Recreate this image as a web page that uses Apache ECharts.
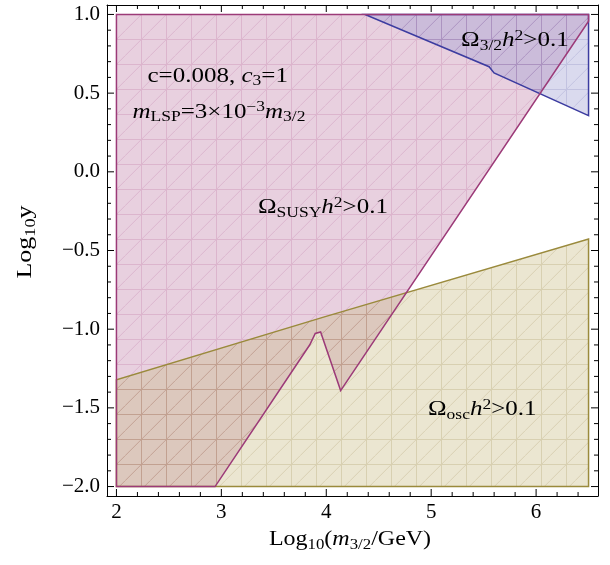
<!DOCTYPE html>
<html>
<head>
<meta charset="utf-8">
<script src="https://cdn.jsdelivr.net/npm/echarts@6/dist/echarts.min.js"></script>
<style>
  body { margin: 0; background: #fff; }
  #chart { width: 610px; height: 565px; }
</style>
</head>
<body>
<div id="chart"></div>
<script>
// region boundaries, [log10 m3/2, log10 y]
const susyRegion = [[2, 1], [6.5, 1], [6.5, 0.957], [4.137, -1.39], [3.946, -1.018], [3.895, -1.027],
  [3.843, -1.099], [2.94, -2], [2, -2]];
const oscRegion = [[2, -2], [6.5, -2], [6.5, -0.427], [3.99, -0.92], [2, -1.322]];
const gravitinoRegion = [[4.369, 1], [6.5, 1], [6.5, 0.357], [5.599, 0.628], [5.552, 0.668]];

const xRange = [1.91, 6.59];
const yRange = [-2.06, 1.06];
const xMajor = [2, 3, 4, 5, 6];
const xMinor = [2.2, 2.4, 2.6, 2.8, 3.2, 3.4, 3.6, 3.8, 4.2, 4.4, 4.6, 4.8, 5.2, 5.4, 5.6, 5.8, 6.2, 6.4];
const yMajor = [-2, -1.5, -1, -0.5, 0, 0.5, 1];
const yMinor = [-1.9, -1.8, -1.7, -1.6, -1.4, -1.3, -1.2, -1.1, -0.9, -0.8, -0.7, -0.6, -0.4, -0.3, -0.2, -0.1,
  0.1, 0.2, 0.3, 0.4, 0.6, 0.7, 0.8, 0.9];

const annotations = [
  { at: [2.296, 0.606], text: 'c=0.008, {i|c}{sub|3}=1' },
  { at: [2.153, 0.377], text: '{i|m}{sub|LSP}=3×10{sup|−3}{i|m}{sub|3/2}' },
  { at: [3.349, -0.23], text: 'Ω{sub|SUSY}{i|h}{sup|2}>0.1' },
  { at: [5.285, 0.831], text: 'Ω{sub|3/2}{i|h}{sup|2}>0.1' },
  { at: [4.97, -1.513], text: 'Ω{sub|osc}{i|h}{sup|2}>0.1' }
];

const serif = '"Liberation Serif", "Times New Roman", serif';

function meshTile(base, line) {
  const c = document.createElement('canvas');
  c.width = 25; c.height = 25;
  const ctx = c.getContext('2d');
  ctx.fillStyle = base;
  ctx.fillRect(0, 0, 25, 25);
  ctx.strokeStyle = line;
  ctx.lineWidth = 1;
  ctx.beginPath();
  ctx.moveTo(16.5, 0); ctx.lineTo(16.5, 25);
  ctx.moveTo(0, 14.5); ctx.lineTo(25, 14.5);
  ctx.moveTo(0, 5.8); ctx.lineTo(5.8, 0);
  ctx.moveTo(5.8, 25); ctx.lineTo(25, 5.8);
  ctx.stroke();
  return c;
}

function polySeries(pts, style, z) {
  return {
    type: 'custom',
    silent: true,
    z: z,
    encode: { x: 0, y: 1 },
    data: pts,
    renderItem: function (params, api) {
      if (params.dataIndex !== 0) return null;
      return {
        type: 'polygon',
        shape: { points: pts.map(p => api.coord(p)) },
        style: style
      };
    }
  };
}

function fillStyle(base, line) {
  return { fill: { type: 'pattern', image: meshTile(base, line), repeat: 'repeat' }, opacity: 0.37, stroke: null };
}

// inward frame ticks on both opposite edges (axisTick.inside did not turn them in)
function tickSeries(dim, values, len) {
  return {
    type: 'custom',
    silent: true,
    z: 5,
    encode: dim === 'x' ? { x: 0, y: 1 } : { x: 1, y: 0 },
    data: values.map(v => [v, dim === 'x' ? yRange[0] : xRange[0]]),
    renderItem: function (params, api) {
      const v = api.value(0);
      let a, b;
      if (dim === 'x') {
        a = api.coord([v, yRange[0]]);
        b = api.coord([v, yRange[1]]);
        return { type: 'group', children: [
          { type: 'line', shape: { x1: a[0], y1: a[1], x2: a[0], y2: a[1] - len }, style: { stroke: '#000', lineWidth: 1 } },
          { type: 'line', shape: { x1: b[0], y1: b[1], x2: b[0], y2: b[1] + len }, style: { stroke: '#000', lineWidth: 1 } }
        ] };
      }
      a = api.coord([xRange[0], v]);
      b = api.coord([xRange[1], v]);
      return { type: 'group', children: [
        { type: 'line', shape: { x1: a[0], y1: a[1], x2: a[0] + len, y2: a[1] }, style: { stroke: '#000', lineWidth: 1 } },
        { type: 'line', shape: { x1: b[0], y1: b[1], x2: b[0] - len, y2: b[1] }, style: { stroke: '#000', lineWidth: 1 } }
      ] };
    }
  };
}

function frameAxis(kind, pos, labels) {
  const range = kind === 'x' ? xRange : yRange;
  const ax = {
    type: 'value', position: pos, min: range[0], max: range[1],
    axisLine: { show: true, onZero: false, lineStyle: { color: '#000', width: 1 } },
    splitLine: { show: false },
    axisTick: { show: false },
    axisLabel: { show: false }
  };
  if (labels) {
    ax.axisLabel = { show: true, customValues: labels, fontFamily: serif, fontSize: 21, color: '#000', margin: kind === 'x' ? 6 : 7 };
    if (kind === 'y') ax.axisLabel.formatter = v => (v < 0 ? '−' : '') + Math.abs(v).toFixed(1);
  }
  return ax;
}

const option = {
  animation: false,
  grid: { left: 107, right: 12, top: 5, bottom: 69, containLabel: false },
  xAxis: [frameAxis('x', 'bottom', xMajor), frameAxis('x', 'top', null)],
  yAxis: [frameAxis('y', 'left', yMajor), frameAxis('y', 'right', null)],
  series: [
    polySeries(susyRegion, fillStyle('rgb(192,129,169)', 'rgb(161,55,121)'), 2),
    polySeries(oscRegion, fillStyle('rgb(201,186,132)', 'rgb(150,128,45)'), 2),
    polySeries(gravitinoRegion, fillStyle('rgb(155,155,209)', 'rgb(90,90,170)'), 2),
    polySeries(oscRegion, { fill: 'none', stroke: '#9a8a3c', lineWidth: 1.5 }, 3),
    polySeries(gravitinoRegion, { fill: 'none', stroke: '#3c3ca0', lineWidth: 1.5 }, 3),
    polySeries(susyRegion, { fill: 'none', stroke: '#9c3a78', lineWidth: 1.5 }, 3),
    tickSeries('x', xMajor, 7),
    tickSeries('x', xMinor, 4),
    tickSeries('y', yMajor, 7),
    tickSeries('y', yMinor, 4)
  ]
};

const chart = echarts.init(document.getElementById('chart'));
chart.setOption(option);

const rich = {
  i: { fontFamily: serif, fontSize: 20, fontStyle: 'italic', fill: '#000' },
  sub: { fontFamily: serif, fontSize: 14, lineHeight: 10, verticalAlign: 'bottom', fill: '#000' },
  sup: { fontFamily: serif, fontSize: 14, lineHeight: 14, verticalAlign: 'top', fill: '#000' }
};

function textEl(x, y, text, align, stretch, rotation) {
  return {
    type: 'text', x: x, y: y, scaleX: stretch, rotation: rotation || 0, z: 10, silent: true,
    style: {
      text: text, rich: rich, fontFamily: serif, fontSize: 20, lineHeight: 24, fill: '#000',
      align: align, verticalAlign: 'middle'
    }
  };
}

const graphics = annotations.map(a => {
  const p = chart.convertToPixel({ xAxisIndex: 0, yAxisIndex: 0 }, a.at);
  return textEl(p[0], p[1], a.text, 'left', 1.25);
});
graphics.push(textEl(350, 540, 'Log{sub|10}({i|m}{sub|3/2}/GeV)', 'center', 1.2));
graphics.push(textEl(26, 242, 'Log{sub|10}y', 'center', 1.3, Math.PI / 2));

chart.setOption({ graphic: graphics });
</script>
</body>
</html>
